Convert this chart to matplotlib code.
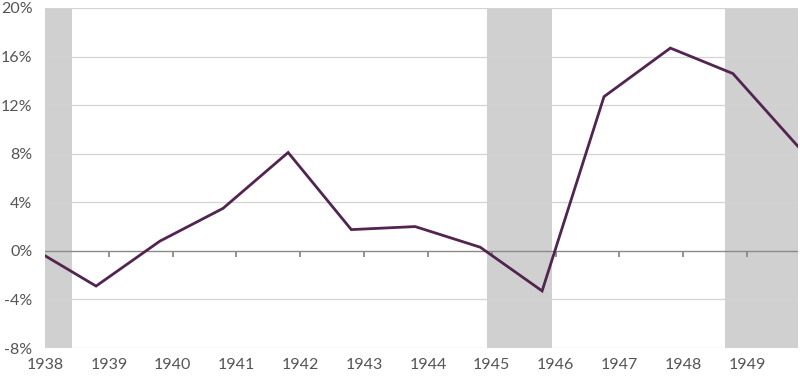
import matplotlib.pyplot as plt
import numpy as np

# quarterly-ish points (x in fractional years, y in %)
dates = [1938.0, 1938.8, 1939.8, 1940.79, 1941.81, 1942.8, 1943.8,
         1944.82, 1945.79, 1946.76, 1947.8, 1948.78, 1949.8]
values = [-0.4, -2.9, 0.8, 3.5, 8.1, 1.75, 2.0, 0.3, -3.3, 12.7, 16.7, 14.6, 8.6]

# recession bands
rec_start = [1938.0, 1944.93, 1948.66]
rec_end = [1938.42, 1945.95, 1949.8]

years = list(range(1938, 1950))
yticks = [-8, -4, 0, 4, 8, 12, 16, 20]

plt.rcParams['font.family'] = ['Lato', 'DejaVu Sans']

fig = plt.figure(figsize=(8, 3.76), dpi=100)
ax = fig.add_axes([45 / 800, 28 / 376, 753 / 800, 340 / 376])

for s, e in zip(rec_start, rec_end):
    ax.axvspan(s, e, color='#d0d0d0', lw=0, zorder=0)

for t in yticks:
    if t != 0:
        ax.axhline(t, color='#d3d3d3', lw=0.9, zorder=1)
ax.axhline(0, color='#8a8a8a', lw=1.0, zorder=2)
ax.vlines(years[1:], -0.5, 0, color='#8a8a8a', lw=1.3, zorder=2)

ax.plot(dates, values, color='#522450', lw=2, zorder=3, solid_joinstyle='miter')

ax.set_xlim(1938, 1949.8)
ax.set_ylim(-8, 20)
ax.set_yticks(yticks)
ax.set_yticklabels([f'{t}%' for t in yticks])
ax.set_xticks(years)
ax.set_xticklabels([str(y) for y in years])
ax.tick_params(axis='both', length=0, labelsize=11.5, colors='#555555')
ax.tick_params(axis='y', pad=9)
ax.tick_params(axis='x', pad=7)
for sp in ax.spines.values():
    sp.set_visible(False)

fig.savefig('out.png', dpi=100)
